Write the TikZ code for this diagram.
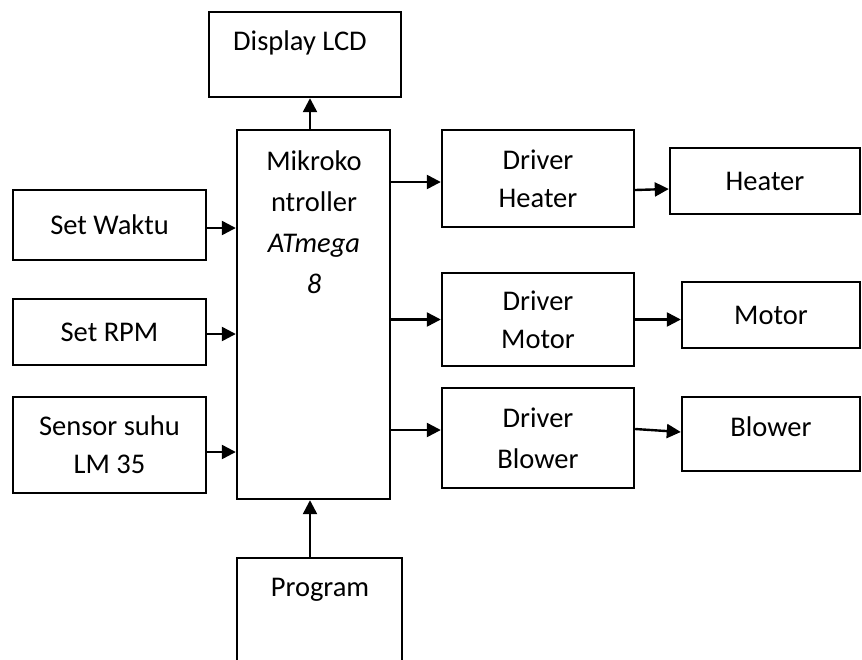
\documentclass[tikz,border=0pt]{standalone}
\usepackage{fontspec}
\setmainfont{Carlito}
\usetikzlibrary{arrows.meta}

\begin{document}
\begin{tikzpicture}[x=1pt, y=-1pt,
    kotak/.style={draw, line width=2.4pt, inner sep=0pt, align=center,
        font=\fontsize{28.5}{38}\selectfont},
    teks/.style={inner sep=0pt, align=center, font=\fontsize{28.5}{41}\selectfont},
    panah/.style={line width=2.4pt, -{Triangle[length=14pt,width=14pt]}}]
    \useasboundingbox (0,0) rectangle (862,659);
    \clip (0,0) rectangle (862,659);

    % Mikrokontroler, LCD dan program
    \node[kotak, minimum width=192pt, minimum height=85pt] (lcd) at (305,54.5) {};
    \node[teks] (lcdteks) at (300,43) {Display LCD};
    \node[kotak, minimum width=153pt, minimum height=369pt] (mikro) at (313.5,314.5) {};
    \node[teks] (mikroteks) at (314,222) {Mikroko\\ntroller\\\textit{ATmega}\\\textit{8}};
    \node[kotak, minimum width=165pt, minimum height=142pt] (prog) at (319.5,629) {};
    \node[teks] (progteks) at (320,590) {Program};

    % Masukan
    \node[kotak, minimum width=193pt, minimum height=70pt] (waktu) at (109.5,225) {Set Waktu};
    \node[kotak, minimum width=193pt, minimum height=66pt] (rpm) at (109.5,332) {Set RPM};
    \node[kotak, minimum width=193pt, minimum height=96pt] (sensor) at (109.5,445) {Sensor suhu\\LM 35};

    % Driver
    \node[kotak, minimum width=192pt, minimum height=97pt] (drvh) at (538,178.5) {Driver\\Heater};
    \node[kotak, minimum width=192pt, minimum height=93pt] (drvm) at (538,319.5) {Driver\\Motor};
    \node[kotak, minimum width=192pt, minimum height=100pt, font=\fontsize{28.5}{41}\selectfont] (drvb) at (538,438) {Driver\\Blower};

    % Keluaran
    \node[kotak, minimum width=190pt, minimum height=66pt] (heater) at (765,181) {Heater};
    \node[kotak, minimum width=178pt, minimum height=66pt] (motor) at (771,315) {Motor};
    \node[kotak, minimum width=178pt, minimum height=74pt, text depth=14pt] (blower) at (771,434) {Blower};

    % Panah
    \draw[panah] ([xshift=-3.5pt]mikro.north) -- ([xshift=-3.5pt]mikro.north |- lcd.south);
    \draw[panah] ([xshift=-9.5pt]prog.north) -- ([xshift=-9.5pt]prog.north |- mikro.south);
    \draw[panah] ([yshift=-3pt]waktu.east) -- ([yshift=-3pt]waktu.east -| mikro.west);
    \draw[panah] ([yshift=-2pt]rpm.east) -- ([yshift=-2pt]rpm.east -| mikro.west);
    \draw[panah] ([yshift=-7pt]sensor.east) -- ([yshift=-7pt]sensor.east -| mikro.west);
    \draw[panah] ([yshift=-3.5pt]drvh.west -| mikro.east) -- ([yshift=-3.5pt]drvh.west);
    \draw[panah] (drvm.west -| mikro.east) -- (drvm.west);
    \draw[panah] ([yshift=8pt]drvb.west -| mikro.east) -- ([yshift=8pt]drvb.west);
    \draw[panah] ([yshift=-11.5pt]drvh.east) -- ([yshift=-8pt]heater.west);
    \draw[panah] (drvm.east) -- (drvm.east -| motor.west);
    \draw[panah] ([yshift=9pt]drvb.east) -- ([yshift=2pt]blower.west);
\end{tikzpicture}
\end{document}
